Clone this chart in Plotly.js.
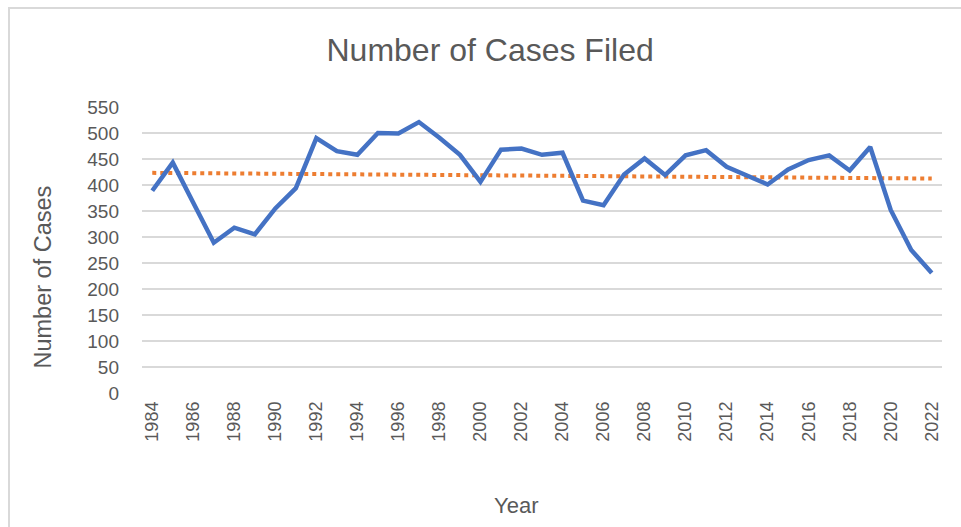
<!DOCTYPE html>
<html>
<head>
<meta charset="utf-8">
<script src="https://cdn.plot.ly/plotly-3.0.1.min.js"></script>
<style>
  html, body { margin: 0; padding: 0; background: #ffffff; overflow: hidden; }
  #chart { width: 961px; height: 527px; }
  #frame { position: absolute; left: 8px; top: 7px; width: 1000px; height: 600px;
           border-left: 2px solid #D9D9D9; border-top: 2px solid #D9D9D9; pointer-events: none; }
</style>
</head>
<body>
<div id="chart"></div>
<div id="frame"></div>
<script>
const years = ['1984','1985','1986','1987','1988','1989','1990','1991','1992','1993',
  '1994','1995','1996','1997','1998','1999','2000','2001','2002','2003',
  '2004','2005','2006','2007','2008','2009','2010','2011','2012','2013',
  '2014','2015','2016','2017','2018','2019','2020','2021','2022'];
const cases = [389, 443, 366, 289, 318, 305, 355, 394, 490, 465,
  458, 500, 499, 521, 491, 458, 406, 468, 470, 458,
  462, 370, 361, 420, 451, 419, 457, 467, 435, 418,
  401, 430, 448, 457, 428, 473, 352, 275, 231];
const yTicks = [0, 50, 100, 150, 200, 250, 300, 350, 400, 450, 500, 550];
const xTickLabels = ['1984','1986','1988','1990','1992','1994','1996','1998','2000','2002',
  '2004','2006','2008','2010','2012','2014','2016','2018','2020','2022'];
const chartTitle = 'Number of Cases Filed';
const xTitle = 'Year';
const yTitle = 'Number of Cases';

// Linear trendline (least squares) over the series, as the spreadsheet draws it
const n = cases.length;
let sx = 0, sy = 0, sxx = 0, sxy = 0;
for (let i = 0; i < n; i++) { sx += i; sy += cases[i]; sxx += i * i; sxy += i * cases[i]; }
const slope = (n * sxy - sx * sy) / (n * sxx - sx * sx);
const intercept = (sy - slope * sx) / n;
const trend = cases.map((_, i) => intercept + slope * i);

const font = 'Liberation Sans, Arial, sans-serif';
const grey = '#595959';

const data = [
  { x: years, y: trend, type: 'scatter', mode: 'lines', name: 'Linear trend',
    line: { color: '#ED7D31', width: 4, dash: 'dot' }, hoverinfo: 'skip' },
  { x: years, y: cases, type: 'scatter', mode: 'lines', name: 'Number of Cases',
    line: { color: '#4472C4', width: 4.5 } }
];

const layout = {
  width: 961, height: 527,
  margin: { l: 142, r: 19, t: 107, b: 134 },
  paper_bgcolor: '#ffffff', plot_bgcolor: '#ffffff',
  showlegend: false,
  font: { family: font, color: grey },
  title: { text: chartTitle, font: { family: font, size: 32, color: grey },
           xref: 'container', x: 0.51, xanchor: 'center', yref: 'container', y: 0.905, yanchor: 'middle' },
  xaxis: {
    type: 'category', range: [-0.5, 38.5],
    tickmode: 'array', tickvals: xTickLabels, ticktext: xTickLabels,
    tickangle: -90, tickfont: { size: 18, color: grey }, ticks: '', ticklabelstandoff: 4,
    showgrid: false, zeroline: false, showline: false
  },
  yaxis: {
    range: [0, 550], tickmode: 'array', tickvals: yTicks,
    tickfont: { size: 19, color: grey }, ticks: '', ticklabelstandoff: 22,
    showgrid: true, gridcolor: '#D9D9D9', gridwidth: 1.3, zeroline: false, showline: false
  },
  annotations: [
    { text: xTitle, xref: 'paper', yref: 'paper', x: 0.4675, y: -0.393,
      xanchor: 'center', yanchor: 'middle', showarrow: false,
      font: { size: 22, color: grey } },
    { text: yTitle, xref: 'paper', yref: 'paper', x: -0.1237, y: 0.404,
      xanchor: 'center', yanchor: 'middle', showarrow: false, textangle: -90,
      font: { size: 23.5, color: grey } }
  ]
};

Plotly.newPlot('chart', data, layout, { displayModeBar: false, staticPlot: true });
</script>
</body>
</html>
